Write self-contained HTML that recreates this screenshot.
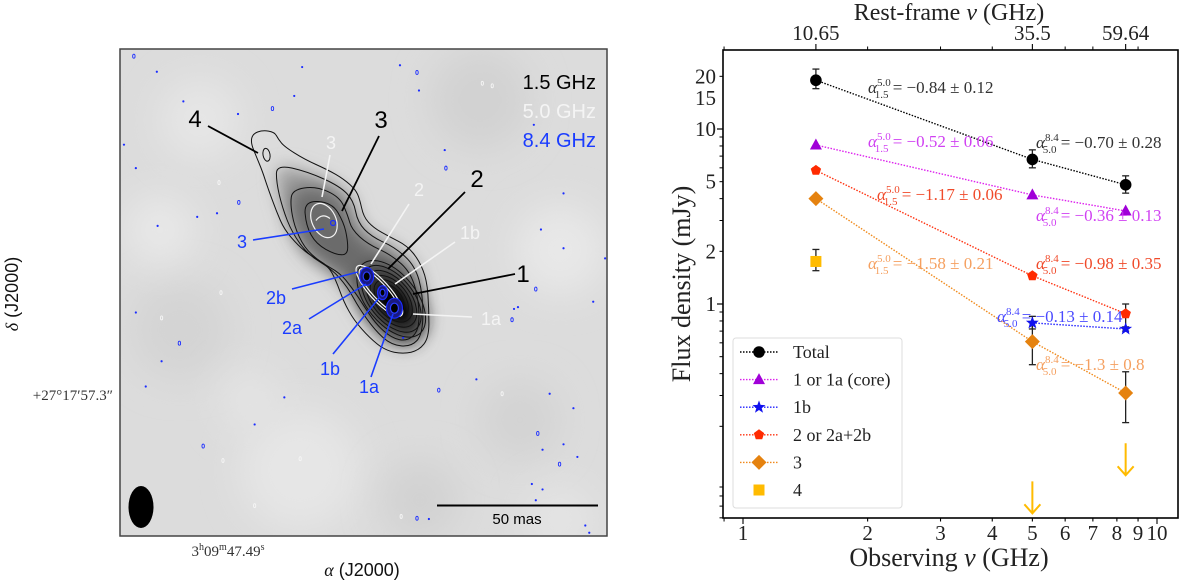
<!DOCTYPE html>
<html><head><meta charset="utf-8">
<style>
html,body{margin:0;padding:0;background:#fff;}
svg{display:block;}
.serif{font-family:"Liberation Serif","DejaVu Serif",serif;}
.sans{font-family:"Liberation Sans","DejaVu Sans",sans-serif;}
</style></head>
<body>
<svg id="fig" width="1200" height="585" viewBox="0 0 1200 585" xmlns="http://www.w3.org/2000/svg">
<defs>
  <filter id="blur1" x="-50%" y="-50%" width="200%" height="200%"><feGaussianBlur stdDeviation="9"/></filter>
  <filter id="blur2" x="-50%" y="-50%" width="200%" height="200%"><feGaussianBlur stdDeviation="18"/></filter>
  <filter id="blur3" x="-50%" y="-50%" width="200%" height="200%"><feGaussianBlur stdDeviation="4"/></filter>
  <clipPath id="mapclip"><rect x="120" y="49" width="487" height="487"/></clipPath>
</defs>
<g id="map"></g>
<g id="chart"></g>
</svg>
<script>
// ---------------- Spectrum chart data ----------------
const freqs = [1.5, 5.0, 8.4];
const restTicks = ["10.65", "35.5", "59.64"];
const totalFlux = [19.0, 6.7, 4.8];
const totalErrLo = [17.0, 6.0, 4.3];
const totalErrHi = [22.0, 7.6, 5.4];
const coreFlux = [8.1, 4.2, 3.4];
const comp1bFreqs = [5.0, 8.4];
const comp1bFlux = [0.78, 0.72];
const comp1bErrLo = [0.72, 0.70];
const comp1bErrHi = [0.85, 0.74];
const comp2Flux = [5.8, 1.45, 0.88];
const comp2ErrLo = [5.6, 1.40, 0.73];
const comp2ErrHi = [6.0, 1.50, 1.0];
const comp3Flux = [4.0, 0.61, 0.31];
const comp3ErrLo = [3.85, 0.45, 0.21];
const comp3ErrHi = [4.15, 0.78, 0.41];
const comp4Freqs = [1.5];
const comp4Flux = [1.75];
const comp4ErrLo = [1.55];
const comp4ErrHi = [2.05];
const comp4LimitFreqs = [5.0, 8.4];
const comp4Limits = [0.097, 0.16];
const yTickVals = [1, 2, 5, 10, 15, 20];
const yTickLabels = ["1", "2", "5", "10", "15", "20"];
const xTickVals = [1, 2, 3, 4, 5, 6, 7, 8, 9, 10];
const xTickLabels = ["1", "2", "3", "4", "5", "6", "7", "8", "9", "10"];

const NS = "http://www.w3.org/2000/svg";
function mk(tag, attrs, parent) {
  const e = document.createElementNS(NS, tag);
  for (const k in attrs) e.setAttribute(k, attrs[k]);
  if (parent) parent.appendChild(e);
  return e;
}
const L10 = Math.log10;
const X0 = 723, X1 = 1178, Y0 = 50, Y1 = 518;
function xs(v) { return 743 + 414 * L10(v); }
function ys(v) { return 304 - 175 * L10(v); }

const chart = document.getElementById("chart");

const frame = mk("rect", {x: X0, y: Y0, width: X1 - X0, height: Y1 - Y0, fill: "none", stroke: "#000", "stroke-width": 1.6}, chart);



const yAxis = mk("g", {}, chart);


const yMinor = [0.06,0.07,0.08,0.09,0.2,0.3,0.4,0.5,0.6,0.7,0.8,0.9,2,3,4,5,6,7,8,9,20];
yMinor.forEach(v => { const y = ys(v); if (y > Y0 && y < Y1) mk("line", {x1: X0 - 3.5, x2: X0, y1: y, y2: y, stroke: "#000", "stroke-width": 1}, yAxis); });
[1, 10].forEach(v => { const y = ys(v); mk("line", {x1: X0 - 6, x2: X0, y1: y, y2: y, stroke: "#000", "stroke-width": 1.2}, yAxis); });
yTickVals.forEach((v, i) => {
  const t = mk("text", {x: 716, y: ys(v) + 7, "text-anchor": "end", "font-size": 21, class: "serif", fill: "#222"}, yAxis);
  t.textContent = yTickLabels[i];
  
  
});
const yTitle = mk("text", {x: 0, y: 0, transform: "translate(690,284) rotate(-90)", "text-anchor": "middle", "font-size": 26, class: "serif", fill: "#222"}, chart);
yTitle.textContent = "Flux density (mJy)";



const xAxis = mk("g", {}, chart);


mk("line", {x1: xs(0.9), x2: xs(0.9), y1: Y1, y2: Y1 + 3.5, stroke: "#000"}, xAxis);
xTickVals.forEach((v, i) => {
  const x = xs(v);
  mk("line", {x1: x, x2: x, y1: Y1, y2: Y1 + (v === 1 || v === 10 ? 6 : 3.5), stroke: "#000", "stroke-width": 1.1}, xAxis);
  const t = mk("text", {x: x, y: 540, "text-anchor": "middle", "font-size": 21, class: "serif", fill: "#222"}, xAxis);
  t.textContent = xTickLabels[i];
  
  
});
const xTitle = mk("text", {x: 949, y: 566, "text-anchor": "middle", "font-size": 26, class: "serif", fill: "#222"}, chart);
xTitle.innerHTML = "Observing <tspan font-style=\"italic\">ν</tspan> (GHz)";



const topAxis = mk("g", {}, chart);


[2, 3, 4, 6, 7, 9].forEach(v => { const x = xs(v); mk("line", {x1: x, x2: x, y1: Y0, y2: Y0 - 3.5, stroke: "#000"}, topAxis); });
mk("line", {x1: xs(0.9), x2: xs(0.9), y1: Y0, y2: Y0 - 3.5, stroke: "#000"}, topAxis);
freqs.forEach((v, i) => {
  const x = xs(v);
  mk("line", {x1: x, x2: x, y1: Y0, y2: Y0 - 6, stroke: "#000", "stroke-width": 1.1}, topAxis);
  const t = mk("text", {x: x, y: 40, "text-anchor": "middle", "font-size": 21, class: "serif", fill: "#222"}, topAxis);
  t.textContent = restTicks[i];
  
  
});
const topTitle = mk("text", {x: 949, y: 20, "text-anchor": "middle", "font-size": 24, class: "serif", fill: "#222"}, chart);
topTitle.innerHTML = "Rest-frame <tspan font-style=\"italic\">ν</tspan> (GHz)";



function marker(kind, x, y, color, parent) {
  let e;
  if (kind === "circle") e = mk("circle", {cx: x, cy: y, r: 5.8, fill: color}, parent);
  else if (kind === "tri") e = mk("polygon", {points: `${x},${y-6.5} ${x+6},${y+4.5} ${x-6},${y+4.5}`, fill: color}, parent);
  else if (kind === "star") {
    let p = [];
    for (let k = 0; k < 10; k++) { const r = k % 2 ? 2.8 : 6.8; const a = -Math.PI/2 + k*Math.PI/5; p.push((x + r*Math.cos(a)).toFixed(1) + "," + (y + r*Math.sin(a)).toFixed(1)); }
    e = mk("polygon", {points: p.join(" "), fill: color}, parent);
  } else if (kind === "pent") {
    let p = [];
    for (let k = 0; k < 5; k++) { const a = -Math.PI/2 + k*2*Math.PI/5; p.push((x + 5.5*Math.cos(a)).toFixed(1) + "," + (y + 5.5*Math.sin(a)).toFixed(1)); }
    e = mk("polygon", {points: p.join(" "), fill: color}, parent);
  } else if (kind === "diamond") e = mk("polygon", {points: `${x},${y-7.5} ${x+7.5},${y} ${x},${y+7.5} ${x-7.5},${y}`, fill: color}, parent);
  else if (kind === "square") e = mk("rect", {x: x - 5.5, y: y - 5.5, width: 11, height: 11, fill: color}, parent);
  return e;
}
function errbar(x, lo, hi, parent) {
  const g = mk("g", {stroke: "#222", "stroke-width": 1.3}, parent);
  mk("line", {x1: x, x2: x, y1: ys(lo), y2: ys(hi)}, g);
  mk("line", {x1: x - 3.5, x2: x + 3.5, y1: ys(lo), y2: ys(lo)}, g);
  mk("line", {x1: x - 3.5, x2: x + 3.5, y1: ys(hi), y2: ys(hi)}, g);
}
function series(name, fx, vals, lo, hi, kind, mcolor, lcolor) {
  const g = mk("g", {}, chart);
  
  
  if (fx.length > 1) {
    const pts = fx.map((f, i) => xs(f).toFixed(1) + "," + ys(vals[i]).toFixed(1)).join(" ");
    mk("polyline", {points: pts, fill: "none", stroke: lcolor, "stroke-width": 1.4, "stroke-dasharray": "1.5,1.5"}, g);
  }
  fx.forEach((f, i) => {
    if (lo) errbar(xs(f), lo[i], hi[i], g);
    const m = marker(kind, xs(f), ys(vals[i]), mcolor, g);
    
    
  });
  return g;
}
series("series-3", freqs, comp3Flux, comp3ErrLo, comp3ErrHi, "diamond", "#e5820f", "#f08a1c");
series("series-2", freqs, comp2Flux, comp2ErrLo, comp2ErrHi, "pent", "#ff2a00", "#ff3311");
series("series-1b", comp1bFreqs, comp1bFlux, comp1bErrLo, comp1bErrHi, "star", "#1010ee", "#2222ff");
series("series-core", freqs, coreFlux, null, null, "tri", "#a000d8", "#dd22ee");
series("series-total", freqs, totalFlux, totalErrLo, totalErrHi, "circle", "#000", "#000");
series("series-4", comp4Freqs, comp4Flux, comp4ErrLo, comp4ErrHi, "square", "#ffbb00", "#ffbb00");

const ulG = mk("g", {stroke: "#ffbb00", "stroke-width": 2, fill: "none"}, chart);


comp4LimitFreqs.forEach((f, i) => {
  const x = xs(f), y = ys(comp4Limits[i]);
  const a = mk("path", {d: `M${x},${y} V${y+32} M${x-8},${y+23} L${x},${y+32} L${x+8},${y+23}`}, ulG);
  
  
});

const annX = [868, 1036, 868, 1036, 877, 1036, 868, 997, 1036];
const annY = [93, 148, 147, 221, 200, 269, 269, 322, 370];
const annSup = ["5.0","8.4","5.0","8.4","5.0","8.4","5.0","8.4","8.4"];
const annSub = ["1.5","5.0","1.5","5.0","1.5","5.0","1.5","5.0","5.0"];
const annVal = ["−0.84 ± 0.12","−0.70 ± 0.28","−0.52 ± 0.06","−0.36 ± 0.13","−1.17 ± 0.06","−0.98 ± 0.35","−1.58 ± 0.21","−0.13 ± 0.14","−1.3 ± 0.8"];
const annCol = ["#333","#333","#d040f2","#d040f2","#f04a2a","#f04a2a","#f5a060","#4a4aff","#f5a060"];
annX.forEach((x, i) => {
  const t = mk("text", {x: x, y: annY[i], "font-size": 17, class: "serif", fill: annCol[i]}, chart);
  t.innerHTML = `<tspan font-style="italic">α</tspan><tspan font-size="11" dy="-7">${annSup[i]}</tspan><tspan font-size="11" dx="-16" dy="12">${annSub[i]}</tspan><tspan dy="-5"> = ${annVal[i]}</tspan>`;
  
  
});

const leg = mk("g", {}, chart);


mk("rect", {x: 733, y: 338, width: 169, height: 170, rx: 3, fill: "#fff", "fill-opacity": 0.85, stroke: "#ddd"}, leg);
const legLabels = ["Total", "1 or 1a (core)", "1b", "2 or 2a+2b", "3", "4"];
const legKinds = ["circle", "tri", "star", "pent", "diamond", "square"];
const legM = ["#000", "#a000d8", "#1010ee", "#ff2a00", "#e5820f", "#ffbb00"];
const legL = ["#000", "#dd22ee", "#2222ff", "#ff3311", "#f08a1c", null];
legLabels.forEach((lab, i) => {
  const y = 352 + i * 27.6;
  const e = mk("g", {}, leg);
  
  
  if (legL[i]) mk("line", {x1: 740, x2: 778, y1: y, y2: y, stroke: legL[i], "stroke-width": 1.4, "stroke-dasharray": "1.5,1.5"}, e);
  marker(legKinds[i], 759, y, legM[i], e);
  const t = mk("text", {x: 793, y: y + 6, "font-size": 18, class: "serif", fill: "#222"}, e);
  t.textContent = lab;
});

// ---------------- Radio map ----------------
const map = document.getElementById("map");
function m(xz, yz) { return [120 + (xz - 305) * 0.396, 49 + (yz - 80) * 0.361]; }
function smoothZ(pts) {
  const P = pts.map(p => m(p[0], p[1]));
  const n = P.length; let d = "M" + ((P[0][0]+P[1][0])/2).toFixed(1) + "," + ((P[0][1]+P[1][1])/2).toFixed(1);
  for (let i = 1; i <= n; i++) {
    const a = P[i % n], b = P[(i + 1) % n];
    d += " Q" + a[0].toFixed(1) + "," + a[1].toFixed(1) + " " + ((a[0]+b[0])/2).toFixed(1) + "," + ((a[1]+b[1])/2).toFixed(1);
  }
  return d + " Z";
}
const mg = mk("g", {"clip-path": "url(#mapclip)"}, map);
mk("rect", {x: 120, y: 49, width: 487, height: 487, fill: "#dcdcdc"}, mg);
const mottle = [[200,120,40,"#e6e6e6"],[480,100,50,"#d2d2d2"],[560,250,45,"#e8e8e8"],[180,330,50,"#d4d4d4"],[300,470,60,"#e6e6e6"],[520,420,40,"#d3d3d3"],[160,230,35,"#e8e8e8"],[420,500,40,"#d2d2d2"],[560,520,35,"#e4e4e4"],[250,400,30,"#e4e4e4"]];
mottle.forEach(c => mk("circle", {cx: c[0], cy: c[1], r: c[2], fill: c[3], filter: "url(#blur2)"}, mg));
const outer = [[640,315],[665,305],[695,310],[705,330],[720,350],[770,385],[830,415],[870,440],[900,470],[910,495],[920,545],[945,575],[985,600],[1030,625],[1060,665],[1080,720],[1085,800],[1085,880],[1060,915],[1020,925],[975,915],[935,880],[895,830],[870,780],[850,720],[830,680],[790,655],[755,625],[720,580],[700,530],[680,470],[665,420],[650,380],[635,340]];
const c2 = [[700,400],[780,420],[860,460],[895,500],[905,560],[940,600],[1000,630],[1050,680],[1070,760],[1070,870],[1040,905],[990,900],[950,860],[910,800],[880,740],[840,690],[780,650],[740,590],[715,520],[700,450]];
const c3 = [[740,470],[800,460],[860,490],[880,540],[890,580],[930,620],[990,650],[1040,700],[1060,780],[1060,860],[1030,890],[990,880],[950,840],[920,790],[890,740],[860,700],[810,670],[770,630],[745,570],[735,510]];
const c4 = [[770,500],[840,505],[870,560],[880,610],[880,650],[850,650],[800,620],[775,570]];
mk("path", {d: smoothZ(c2), fill: "#9a9a9a", filter: "url(#blur1)"}, mg);
mk("path", {d: smoothZ(c3), fill: "#6a6a6a", filter: "url(#blur1)"}, mg);
const core = m(995, 785);
mk("ellipse", {cx: core[0], cy: core[1], rx: 40, ry: 22, fill: "#222", transform: `rotate(51 ${core[0]} ${core[1]})`, filter: "url(#blur1)"}, mg);
mk("ellipse", {cx: core[0], cy: core[1], rx: 20, ry: 10, fill: "#000", transform: `rotate(51 ${core[0]} ${core[1]})`, filter: "url(#blur3)"}, mg);
const cg = mk("g", {fill: "none", stroke: "#111", "stroke-width": 1}, mg);


[outer, c2, c3, c4].forEach(p => mk("path", {d: smoothZ(p)}, cg));
const e4 = m(675, 373); mk("ellipse", {cx: e4[0], cy: e4[1], rx: 3.5, ry: 6.5, transform: `rotate(-10 ${e4[0]} ${e4[1]})`}, cg);
const cc = m(990, 772);
[[45,25],[39,22],[33,19],[27,16],[22,13],[17,10]].forEach(r => mk("ellipse", {cx: cc[0], cy: cc[1], rx: r[0], ry: r[1], transform: `rotate(51 ${cc[0]} ${cc[1]})`}, cg));
const wg = mk("g", {fill: "none", stroke: "#f4f4f4", "stroke-width": 1.2}, mg);


const w3 = m(820, 555); mk("ellipse", {cx: w3[0], cy: w3[1], rx: 12, ry: 18, transform: `rotate(-25 ${w3[0]} ${w3[1]})`}, wg);
mk("path", {d: `M${w3[0]-8},${w3[1]} q6,-8 14,-2`}, wg);
const wc = m(960, 750);
mk("ellipse", {cx: wc[0], cy: wc[1], rx: 33, ry: 10, transform: `rotate(48 ${wc[0]} ${wc[1]})`}, wg);
mk("ellipse", {cx: wc[0], cy: wc[1], rx: 29, ry: 7.5, transform: `rotate(48 ${wc[0]} ${wc[1]})`}, wg);
const bg = mk("g", {stroke: "#1a2cff", "stroke-width": 1.2}, mg);


[[928,710,7,9],[968,755,5,7],[998,798,8,10]].forEach(b => {
  const p = m(b[0], b[1]);
  mk("ellipse", {cx: p[0], cy: p[1], rx: b[2], ry: b[3], fill: "#1a1a80"}, bg);
  mk("ellipse", {cx: p[0], cy: p[1], rx: b[2]*0.5, ry: b[3]*0.5, fill: "#000", stroke: "#2a3cff"}, bg);
});
const b3 = m(843, 562); mk("circle", {cx: b3[0], cy: b3[1], r: 2.5, fill: "none"}, bg);
const noise = [[340,100],[398,143],[465,225],[603,260],[690,245],[765,130],[745,210],[1012,125],[1055,145],[1060,195],[1350,290],[1125,360],[1128,410],[1425,480],[1368,580],[1425,632],[1355,745],[1500,780],[1300,800],[1310,795],[1295,830],[345,410],[315,345],[550,535],[605,505],[500,545],[400,570],[345,810],[455,895],[410,945],[370,1015],[720,1045],[1110,1025],[1205,995],[1390,1035],[1450,1075],[1360,1145],[1425,1175],[1372,1190],[1460,1210],[1415,1230],[1345,1285],[1372,1300],[1355,1330],[1055,1380],[1085,1382],[1480,1400],[1490,1420],[515,1180],[645,1120],[1020,880],[1530,660]];
noise.forEach((q, i) => { const p = m(q[0], q[1]); if (i % 4 === 0) mk("ellipse", {cx: p[0], cy: p[1], rx: 1.2, ry: 2, fill: "none", stroke: "#1a2cff", "stroke-width": 0.9}, mg); else mk("circle", {cx: p[0], cy: p[1], r: 1.1, fill: "#1a2cff"}, mg); });
[[1220,175],[1245,182],[555,450],[410,825],[760,1215],[1015,1375],[565,1220],[645,1345],[560,755],[1270,1035]].forEach(q => { const p = m(q[0], q[1]); mk("ellipse", {cx: p[0], cy: p[1], rx: 1.1, ry: 2, fill: "none", stroke: "#f6f6f6", "stroke-width": 0.9}, mg); });

const labs = [
 ["4", 195,127,"#000",24, 208,126,258,153],
 ["3", 381,128,"#000",24, 379,136,342,211],
 ["2", 477,187,"#000",24, 465,192,388,269],
 ["1", 523,282,"#000",24, 515,274,413,294],
 ["3", 331,149,"#f4f4f4",18, 330,155,322,197],
 ["2", 419,196,"#f4f4f4",18, 409,204,371,264],
 ["1b", 470,239,"#f4f4f4",18, 455,242,395,284],
 ["1a", 491,325,"#f4f4f4",18, 472,317,413,314],
 ["3", 242,248,"#1a3cff",18, 253,240,324,229],
 ["2b", 276,304,"#1a3cff",18, 292,289,358,272],
 ["2a", 292,334,"#1a3cff",18, 309,319,366,284],
 ["1b", 330,375,"#1a3cff",18, 333,354,379,298],
 ["1a", 369,393,"#1a3cff",18, 371,377,393,314]
];
labs.forEach(l => {
  const g = mk("g", {}, map);
  
  
  mk("line", {x1: l[5], y1: l[6], x2: l[7], y2: l[8], stroke: l[3], "stroke-width": l[4] > 20 ? 1.8 : 1.6}, g);
  const t = mk("text", {x: l[1], y: l[2], "text-anchor": "middle", "font-size": l[4], class: "sans", fill: l[3]}, g);
  t.textContent = l[0];
});
[["1.5 GHz","#000",89],["5.0 GHz","#f4f4f4",118],["8.4 GHz","#1a3cff",147]].forEach(f => {
  const t = mk("text", {x: 596, y: f[2], "text-anchor": "end", "font-size": 20, class: "sans", fill: f[1]}, map);
  t.textContent = f[0];
  
  
});
const beam = mk("ellipse", {cx: 141, cy: 507, rx: 12.5, ry: 21, fill: "#000"}, map);


const sb = mk("g", {}, map);


mk("line", {x1: 437, x2: 598, y1: 505.5, y2: 505.5, stroke: "#000", "stroke-width": 2}, sb);
const sbt = mk("text", {x: 517, y: 524, "text-anchor": "middle", "font-size": 15, class: "sans", fill: "#000"}, sb);
sbt.textContent = "50 mas";
mk("rect", {x: 120, y: 49, width: 487, height: 487, fill: "none", stroke: "#444", "stroke-width": 1.5}, map);
const dt = mk("text", {x: 113, y: 400, "text-anchor": "end", "font-size": 15, class: "serif", fill: "#333"}, map);
dt.textContent = "+27°17′57.3″";


const rt = mk("text", {x: 228, y: 556, "text-anchor": "middle", "font-size": 15, class: "serif", fill: "#333"}, map);
rt.innerHTML = '3<tspan font-size="10" dy="-6">h</tspan><tspan dy="6">09</tspan><tspan font-size="10" dy="-6">m</tspan><tspan dy="6">47.49</tspan><tspan font-size="10" dy="-6">s</tspan>';


const ra = mk("text", {x: 362, y: 576, "text-anchor": "middle", "font-size": 18, class: "sans", fill: "#111"}, map);
ra.innerHTML = '<tspan class="serif" font-style="italic">α</tspan> (J2000)';


const de = mk("text", {x: 0, y: 0, transform: "translate(18,294) rotate(-90)", "text-anchor": "middle", "font-size": 18, class: "sans", fill: "#111"}, map);
de.innerHTML = '<tspan class="serif" font-style="italic">δ</tspan> (J2000)';


</script>
</body></html>
